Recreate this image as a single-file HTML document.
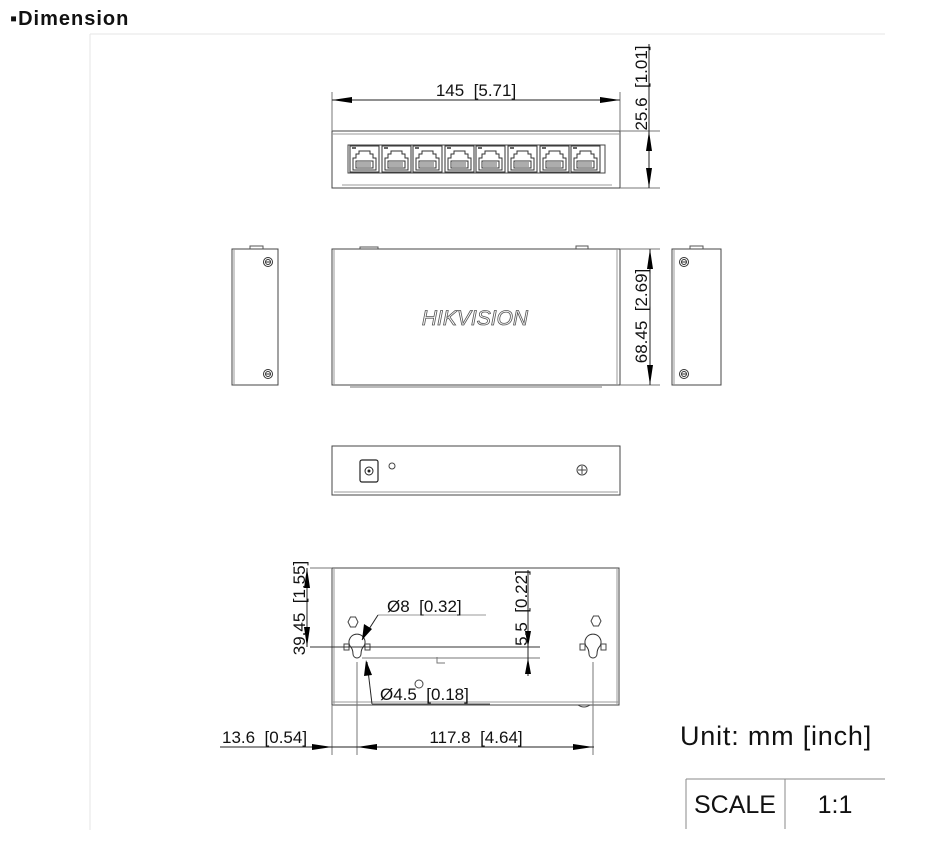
<!DOCTYPE html>
<html><head><meta charset="utf-8"><style>
html,body{margin:0;padding:0;background:#fff;width:931px;height:867px;overflow:hidden}
svg{display:block}
text{font-family:"Liberation Sans",sans-serif;fill:#111;white-space:pre}
</style></head><body>
<svg width="931" height="867" viewBox="0 0 931 867" xmlns="http://www.w3.org/2000/svg">
<defs>
<g id="port">
<rect x="0" y="0" width="29" height="26" fill="none" stroke="#333" stroke-width="1"/>
<path d="M3,24 V12 H6 V8 H9 V5 H20 V8 H23 V12 H26 V24 Z" fill="none" stroke="#333" stroke-width="1"/>
<rect x="6" y="15" width="17" height="7" fill="none" stroke="#333"/>
<path d="M8,16v5M10,16v5M12,16v5M14,16v5M16,16v5M18,16v5M20,16v5" stroke="#333" stroke-width="0.8"/>
<rect x="2" y="1" width="4" height="2" fill="#666"/>
</g>
<g id="screw"><circle r="4.5" fill="none" stroke="#333"/><circle r="2.5" fill="none" stroke="#333"/><path d="M-2,0H2" stroke="#333"/></g>
</defs>

<text x="10" y="25" font-size="20" font-weight="bold" letter-spacing="1">▪Dimension</text>
<line x1="90" y1="34" x2="885" y2="34" stroke="#e6e6e6"/>
<line x1="90" y1="34" x2="90" y2="830" stroke="#e6e6e6"/>

<!-- top (front) view -->
<rect x="332" y="131" width="288" height="57" fill="none" stroke="#444"/>
<line x1="332" y1="134" x2="620" y2="134" stroke="#999"/>
<line x1="342" y1="185" x2="612" y2="185" stroke="#999"/>
<rect x="348" y="145" width="257" height="28" fill="none" stroke="#444"/>
<use href="#port" x="350" y="146"/><use href="#port" x="382" y="146"/><use href="#port" x="413" y="146"/><use href="#port" x="445" y="146"/><use href="#port" x="476" y="146"/><use href="#port" x="508" y="146"/><use href="#port" x="540" y="146"/><use href="#port" x="571" y="146"/>
<line x1="332" y1="92" x2="332" y2="131" stroke="#777"/>
<line x1="620" y1="92" x2="620" y2="131" stroke="#777"/>
<line x1="332" y1="100" x2="620" y2="100" stroke="#222"/>
<path d="M332,100 l20,-3 v6z M620,100 l-20,-3 v6z" fill="#000"/>
<text x="476" y="96" font-size="17" text-anchor="middle">145  [5.71]</text>
<line x1="620" y1="131" x2="660" y2="131" stroke="#777"/>
<line x1="620" y1="188" x2="660" y2="188" stroke="#777"/>
<line x1="649" y1="44" x2="649" y2="188" stroke="#222"/>
<path d="M649,131 l-3,20 h6z M649,188 l-3,-20 h6z" fill="#000"/>
<text transform="translate(647,88) rotate(-90)" font-size="17" text-anchor="middle">25.6  [1.01]</text>

<!-- middle row -->
<rect x="232" y="249" width="46" height="136" fill="none" stroke="#444"/>
<line x1="234" y1="249" x2="234" y2="385" stroke="#999"/>
<path d="M250,249 v-3 h13 v3" fill="none" stroke="#555"/>
<use href="#screw" x="268" y="262"/><use href="#screw" x="268" y="374"/>
<rect x="332" y="249" width="288" height="136" fill="none" stroke="#444"/>
<line x1="334" y1="249" x2="334" y2="385" stroke="#999"/>
<line x1="617" y1="249" x2="617" y2="385" stroke="#999"/>
<path d="M360,249 v-2 h18 v2 M576,249 v-3 h12 v3" fill="none" stroke="#555"/>
<line x1="350" y1="387" x2="602" y2="387" stroke="#777"/>
<text x="475" y="325" font-size="21" font-style="italic" text-anchor="middle" stroke="#555" stroke-width="0.8" style="fill:none">HIKVISION</text>
<line x1="620" y1="249" x2="660" y2="249" stroke="#777"/>
<line x1="620" y1="385" x2="660" y2="385" stroke="#777"/>
<line x1="650" y1="249" x2="650" y2="385" stroke="#222"/>
<path d="M650,249 l-3,20 h6z M650,385 l-3,-20 h6z" fill="#000"/>
<text transform="translate(647,316) rotate(-90)" font-size="17" text-anchor="middle">68.45  [2.69]</text>
<rect x="672" y="249" width="49" height="136" fill="none" stroke="#444"/>
<line x1="674" y1="249" x2="674" y2="385" stroke="#999"/>
<path d="M690,249 v-3 h13 v3" fill="none" stroke="#555"/>
<use href="#screw" x="684" y="262"/><use href="#screw" x="684" y="374"/>

<!-- back view -->
<rect x="332" y="446" width="288" height="49" fill="none" stroke="#444"/>
<line x1="334" y1="492" x2="618" y2="492" stroke="#999"/>
<rect x="360" y="460" width="18" height="22" rx="2" fill="none" stroke="#222" stroke-width="1.2"/>
<circle cx="369" cy="471" r="4" fill="none" stroke="#222"/><circle cx="369" cy="471" r="1.5" fill="#222"/>
<circle cx="392" cy="466" r="3" fill="none" stroke="#444"/>
<circle cx="582" cy="470" r="5" fill="none" stroke="#444"/><path d="M578,470h8M582,466v8" stroke="#444"/>

<!-- bottom view -->
<rect x="332" y="568" width="287" height="137" fill="none" stroke="#444"/>
<line x1="334" y1="568" x2="334" y2="705" stroke="#999"/>
<line x1="617" y1="568" x2="617" y2="705" stroke="#999"/>
<line x1="332" y1="702" x2="619" y2="702" stroke="#999"/>
<line x1="310" y1="568" x2="332" y2="568" stroke="#777"/>
<polygon points="348,622 350.5,617 355.5,617 358,622 355.5,627 350.5,627" fill="none" stroke="#444"/>
<polygon points="591,621 593.5,616 598.5,616 601,621 598.5,626 593.5,626" fill="none" stroke="#444"/>
<circle cx="419" cy="684" r="4" fill="none" stroke="#444"/>
<path d="M578,705 q6,4 12,0" fill="none" stroke="#444"/>
<path d="M350,646 a8,8 0 1 1 14,0 q-3,3 -3,8 a4,4 0 0 1 -8,0 q0,-5 -3,-8z" fill="none" stroke="#333"/>
<rect x="344" y="644" width="5" height="6" fill="none" stroke="#444"/><rect x="365" y="644" width="5" height="6" fill="none" stroke="#444"/>
<path d="M586,646 a8,8 0 1 1 14,0 q-3,3 -3,8 a4,4 0 0 1 -8,0 q0,-5 -3,-8z" fill="none" stroke="#333"/>
<rect x="580" y="644" width="5" height="6" fill="none" stroke="#444"/><rect x="601" y="644" width="5" height="6" fill="none" stroke="#444"/>
<line x1="310" y1="647" x2="540" y2="647" stroke="#333"/>
<line x1="362" y1="658" x2="540" y2="658" stroke="#777"/>
<path d="M437,657 v6 h8" fill="none" stroke="#777"/>
<line x1="307" y1="568" x2="307" y2="647" stroke="#222"/>
<path d="M307,568 l-3,20 h6z M307,647 l-3,-20 h6z" fill="#000"/>
<text transform="translate(305,608) rotate(-90)" font-size="17" text-anchor="middle">39.45  [1.55]</text>
<line x1="378" y1="615" x2="486" y2="615" stroke="#999"/>
<line x1="378" y1="615" x2="362" y2="640" stroke="#222"/>
<path d="M362,640 l2,-16 l8,5z" fill="#000"/>
<text x="387" y="612" font-size="17">Ø8  [0.32]</text>
<line x1="367" y1="662" x2="372" y2="704" stroke="#222"/>
<line x1="372" y1="704" x2="490" y2="704" stroke="#555"/>
<path d="M366,660 l-2,16 l8,-1z" fill="#000"/>
<text x="380" y="700" font-size="17">Ø4.5  [0.18]</text>
<line x1="528" y1="570" x2="528" y2="676" stroke="#222"/>
<path d="M528,647 l-3,-16 h6z M528,658 l-3,16 h6z" fill="#000"/>
<text transform="translate(527,608) rotate(-90)" font-size="17" text-anchor="middle">5.5  [0.22]</text>
<line x1="332" y1="705" x2="332" y2="755" stroke="#777"/>
<line x1="357" y1="662" x2="357" y2="755" stroke="#777"/>
<line x1="593" y1="662" x2="593" y2="755" stroke="#777"/>
<line x1="220" y1="747" x2="594" y2="747" stroke="#222"/>
<path d="M332,747 l-20,-3 v6z M357,747 l20,-3 v6z M593,747 l-20,-3 v6z" fill="#000"/>
<text x="222" y="743" font-size="17">13.6  [0.54]</text>
<text x="476" y="743" font-size="17" text-anchor="middle">117.8  [4.64]</text>

<text x="680" y="745" font-size="27" letter-spacing="0.8">Unit: mm [inch]</text>
<line x1="686" y1="779" x2="885" y2="779" stroke="#888"/>
<line x1="686" y1="779" x2="686" y2="829" stroke="#888"/>
<line x1="785" y1="779" x2="785" y2="829" stroke="#888"/>
<text x="735" y="813" font-size="25" text-anchor="middle">SCALE</text>
<text x="835" y="813" font-size="25" text-anchor="middle">1:1</text>
</svg>
</body></html>
